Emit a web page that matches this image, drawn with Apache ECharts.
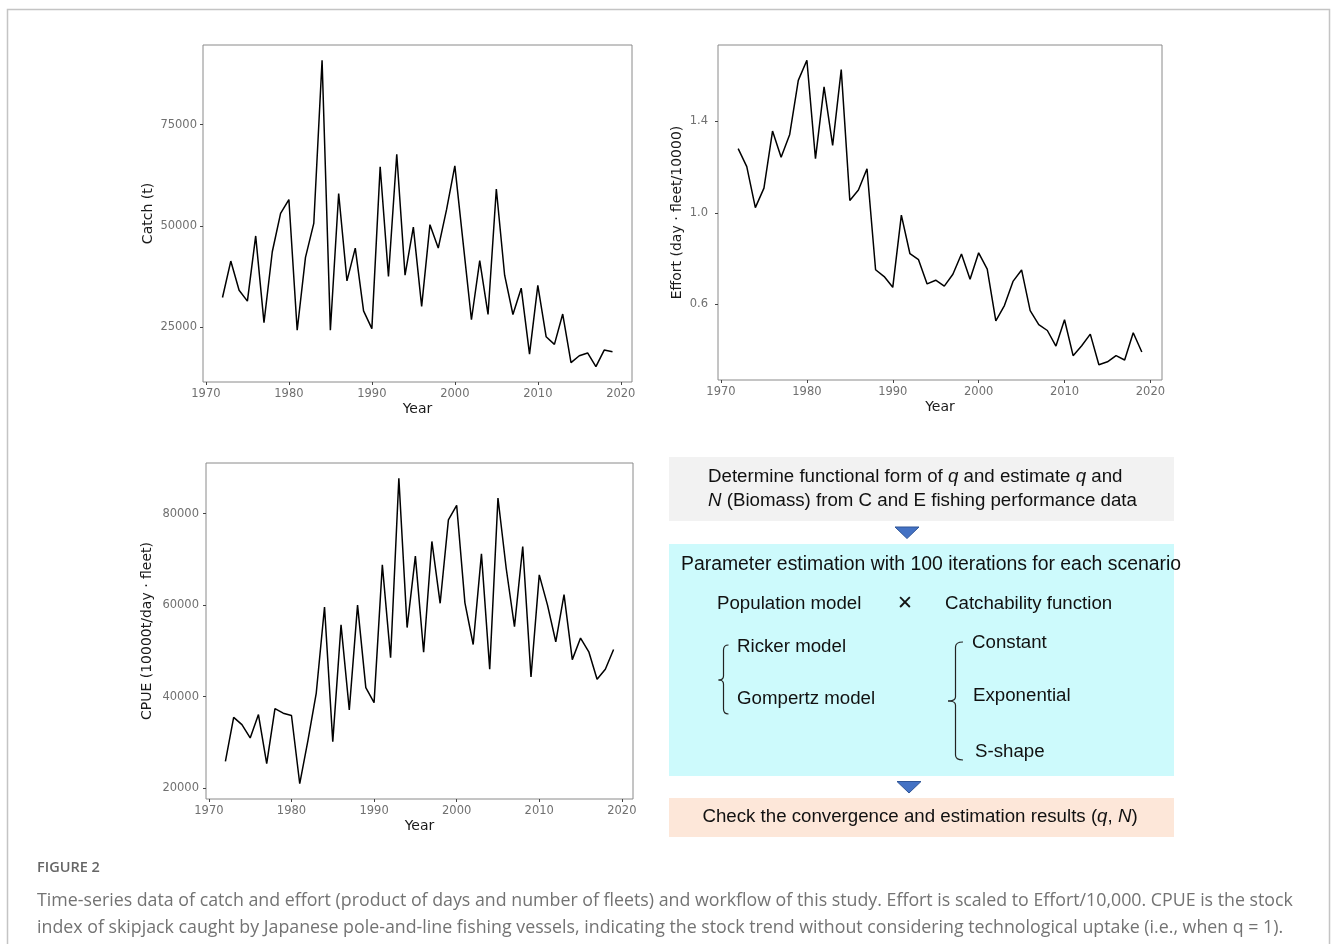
<!DOCTYPE html>
<html>
<head>
<meta charset="utf-8">
<script src="https://cdn.jsdelivr.net/npm/echarts@6/dist/echarts.min.js"></script>
<style>
  html, body { margin: 0; padding: 0; background: #fff; }
  #chart { width: 1331px; height: 944px; }
</style>
</head>
<body>
<div id="chart"></div>
<script>
// ---- Data ----
const years = [1972, 1973, 1974, 1975, 1976, 1977, 1978, 1979, 1980, 1981,
  1982, 1983, 1984, 1985, 1986, 1987, 1988, 1989, 1990, 1991,
  1992, 1993, 1994, 1995, 1996, 1997, 1998, 1999, 2000, 2001,
  2002, 2003, 2004, 2005, 2006, 2007, 2008, 2009, 2010, 2011,
  2012, 2013, 2014, 2015, 2016, 2017, 2018, 2019];

const catchT = [32300, 41300, 34100, 31400, 47500, 26100, 43600, 53100, 56500, 24200,
  42200, 50600, 90900, 24200, 58000, 36400, 44500, 29000, 24600, 64600,
  37500, 67700, 37800, 49700, 30100, 50300, 44500, 54000, 64800, 45800,
  26800, 41400, 28100, 59100, 37800, 28100, 34600, 18300, 35300, 22600,
  20700, 28200, 16200, 17900, 18600, 15200, 19300, 18900];

const effort = [1.281, 1.202, 1.023, 1.108, 1.358, 1.243, 1.343, 1.580, 1.668, 1.237,
  1.551, 1.295, 1.627, 1.054, 1.100, 1.193, 0.751, 0.721, 0.674, 0.990,
  0.821, 0.795, 0.689, 0.705, 0.679, 0.731, 0.820, 0.709, 0.825, 0.754,
  0.527, 0.594, 0.700, 0.750, 0.572, 0.511, 0.485, 0.417, 0.532, 0.375,
  0.418, 0.469, 0.335, 0.348, 0.375, 0.356, 0.475, 0.391];

const cpue = [25900, 35500, 33900, 31000, 36100, 25400, 37400, 36400, 35900, 21000,
  30500, 40800, 59600, 30200, 55700, 37100, 60000, 42000, 38700, 68800,
  48500, 87700, 55100, 70700, 49700, 73900, 60400, 78600, 81800, 60500,
  51400, 71200, 46000, 83400, 68000, 55300, 72800, 44300, 66600, 60000,
  52000, 62300, 48100, 52800, 49800, 43800, 46000, 50300];

const yearTicks = [1970, 1980, 1990, 2000, 2010, 2020];
const catchTicks = [25000, 50000, 75000];
const effortTicks = [0.6, 1.0, 1.4];
const cpueTicks = [20000, 40000, 60000, 80000];

const titles = {
  catchY: 'Catch (t)',
  effortY: 'Effort (day \u00b7 fleet/10000)',
  cpueY: 'CPUE (10000t/day \u00b7 fleet)',
  x: 'Year'
};

const captionHead = 'FIGURE 2';
const captionLines = [
  'Time-series data of catch and effort (product of days and number of fleets) and workflow of this study. Effort is scaled to Effort/10,000. CPUE is the stock',
  'index of skipjack caught by Japanese pole-and-line fishing vessels, indicating the stock trend without considering technological uptake (i.e., when q = 1).'
];

// ---- Helpers ----
function expand(arr) {
  const mn = Math.min.apply(null, arr), mx = Math.max.apply(null, arr);
  const d = (mx - mn) * 0.05;
  return [mn - d, mx + d];
}
const xr = expand(years);
const AX_FONT = '"DejaVu Sans", Verdana, sans-serif';
const TICK_SIZE = 11.5;

function xAxisCfg(gi) {
  return {
    type: 'value', gridIndex: gi, min: xr[0], max: xr[1],
    name: titles.x, nameLocation: 'middle', nameGap: 20,
    nameTextStyle: { fontFamily: AX_FONT, fontSize: 14, color: '#1a1a1a' },
    axisLine: { show: false },
    axisTick: { show: true, length: 3, customValues: yearTicks, lineStyle: { color: '#444', width: 1 } },
    axisLabel: { customValues: yearTicks, margin: 6, fontFamily: AX_FONT, fontSize: TICK_SIZE, color: '#707070',
      formatter: v => String(Math.round(v)) },
    splitLine: { show: false }
  };
}
function yAxisCfg(gi, data, ticks, name, gap, fmt, margin) {
  const r = expand(data);
  return {
    type: 'value', gridIndex: gi, min: r[0], max: r[1],
    name: name, nameLocation: 'middle', nameGap: gap, nameRotate: 90,
    nameTextStyle: { fontFamily: AX_FONT, fontSize: 14, color: '#1a1a1a' },
    axisLine: { show: false },
    axisTick: { show: true, length: 3, customValues: ticks, lineStyle: { color: '#444', width: 1 } },
    axisLabel: { customValues: ticks, margin: margin, fontFamily: AX_FONT, fontSize: TICK_SIZE, color: '#707070',
      formatter: fmt },
    splitLine: { show: false }
  };
}
function lineSeries(gi, vals) {
  return {
    type: 'line', xAxisIndex: gi, yAxisIndex: gi, symbol: 'none',
    lineStyle: { color: '#000', width: 1.5 },
    data: years.map((y, i) => [y, vals[i]])
  };
}

const gridStyle = { show: true, borderColor: '#8a8a8a', borderWidth: 1, backgroundColor: '#fff' };

// ---- Workflow diagram (graphic) ----
const WF_FONT = '"Liberation Sans", Arial, sans-serif';
const wfSize = 18.7;
function txt(x, y, text, align, size) {
  const s = size || wfSize;
  return {
    type: 'text', x: x, y: y, silent: true,
    style: {
      text: text, fill: '#111', fontFamily: WF_FONT, fontSize: s,
      textAlign: align || 'left', textVerticalAlign: 'middle',
      rich: { i: { fontStyle: 'italic', fontFamily: WF_FONT, fontSize: s, fill: '#111' } }
    }
  };
}
function seg(x1, y1, x2, y2) {
  return { type: 'line', silent: true, shape: { x1: x1, y1: y1, x2: x2, y2: y2 },
    style: { stroke: '#222', lineWidth: 1.2 } };
}
function curve(x1, y1, cx, cy, x2, y2) {
  return { type: 'bezierCurve', silent: true,
    shape: { x1: x1, y1: y1, cpx1: cx, cpy1: cy, x2: x2, y2: y2 },
    style: { stroke: '#222', lineWidth: 1.2, fill: null } };
}
function brace(x, top, mid, bot, hook, tip) {
  return [
    curve(x + hook, top, x, top, x, top + 5),
    seg(x, top + 5, x, mid - 4),
    curve(x, mid - 4, x, mid, x - tip, mid),
    curve(x - tip, mid, x, mid, x, mid + 4),
    seg(x, mid + 4, x, bot - 5),
    curve(x, bot - 5, x, bot, x + hook, bot)
  ];
}
const CAP_FONT = '"Open Sans", sans-serif';
const graphics = [
  // page frame
  { type: 'polyline', silent: true, shape: { points: [[7.5, 944], [7.5, 9.5], [1329.5, 9.5], [1329.5, 944]] },
    style: { stroke: '#c4c4c4', lineWidth: 1.5, fill: null } },
  // boxes
  { type: 'rect', silent: true, shape: { x: 669, y: 457, width: 505, height: 64 }, style: { fill: '#f2f2f2' } },
  { type: 'rect', silent: true, shape: { x: 669, y: 544, width: 505, height: 232 }, style: { fill: '#cdfafc' } },
  { type: 'rect', silent: true, shape: { x: 669, y: 798, width: 505, height: 39 }, style: { fill: '#fde7d9' } },
  // arrows
  { type: 'polygon', silent: true, shape: { points: [[895, 527], [919, 527], [907, 538.5]] },
    style: { fill: '#4472c4', stroke: '#2f5597', lineWidth: 1 } },
  { type: 'polygon', silent: true, shape: { points: [[897, 781.5], [921, 781.5], [909, 793]] },
    style: { fill: '#4472c4', stroke: '#2f5597', lineWidth: 1 } },
  // texts
  txt(708, 477, 'Determine functional form of {i|q} and estimate {i|q} and'),
  txt(708, 501, '{i|N} (Biomass) from C and E fishing performance data'),
  txt(931, 565, 'Parameter estimation with 100 iterations for each scenario', 'center', 19.4),
  txt(717, 604, 'Population model'),
  txt(905, 604, '\u2715', 'center', 19),
  txt(945, 604, 'Catchability function'),
  txt(737, 647, 'Ricker model'),
  txt(737, 699, 'Gompertz model'),
  txt(972, 643, 'Constant'),
  txt(973, 696, 'Exponential'),
  txt(975, 752, 'S-shape'),
  txt(920, 817, 'Check the convergence and estimation results ({i|q}, {i|N})', 'center'),
  // caption
  { type: 'text', x: 37, y: 868, silent: true,
    style: { text: captionHead, fill: '#666', fontFamily: CAP_FONT, fontSize: 14.5, fontWeight: 600,
      textVerticalAlign: 'middle' } },
  { type: 'text', x: 37, y: 901, silent: true,
    style: { text: captionLines[0], fill: '#737373', fontFamily: CAP_FONT, fontSize: 17.8,
      textVerticalAlign: 'middle' } },
  { type: 'text', x: 37, y: 927.5, silent: true,
    style: { text: captionLines[1], fill: '#737373', fontFamily: CAP_FONT, fontSize: 17.8,
      textVerticalAlign: 'middle' } }
].concat(brace(723.5, 645, 680, 714, 5, 5), brace(955.5, 642, 701, 760, 7.5, 7.5));

const chart = echarts.init(document.getElementById('chart'));
chart.setOption({
  animation: false,
  backgroundColor: '#fff',
  grid: [
    Object.assign({ left: 203, top: 45, width: 429, height: 337 }, gridStyle),
    Object.assign({ left: 718, top: 45, width: 444, height: 335 }, gridStyle),
    Object.assign({ left: 206, top: 463, width: 427, height: 336 }, gridStyle)
  ],
  xAxis: [xAxisCfg(0), xAxisCfg(1), xAxisCfg(2)],
  yAxis: [
    yAxisCfg(0, catchT, catchTicks, titles.catchY, 48, v => String(Math.round(v)), 6),
    yAxisCfg(1, effort, effortTicks, titles.effortY, 34, v => v.toFixed(1), 10),
    yAxisCfg(2, cpue, cpueTicks, titles.cpueY, 52, v => String(Math.round(v)), 7)
  ],
  series: [lineSeries(0, catchT), lineSeries(1, effort), lineSeries(2, cpue)],
  graphic: graphics
});
</script>
</body>
</html>
